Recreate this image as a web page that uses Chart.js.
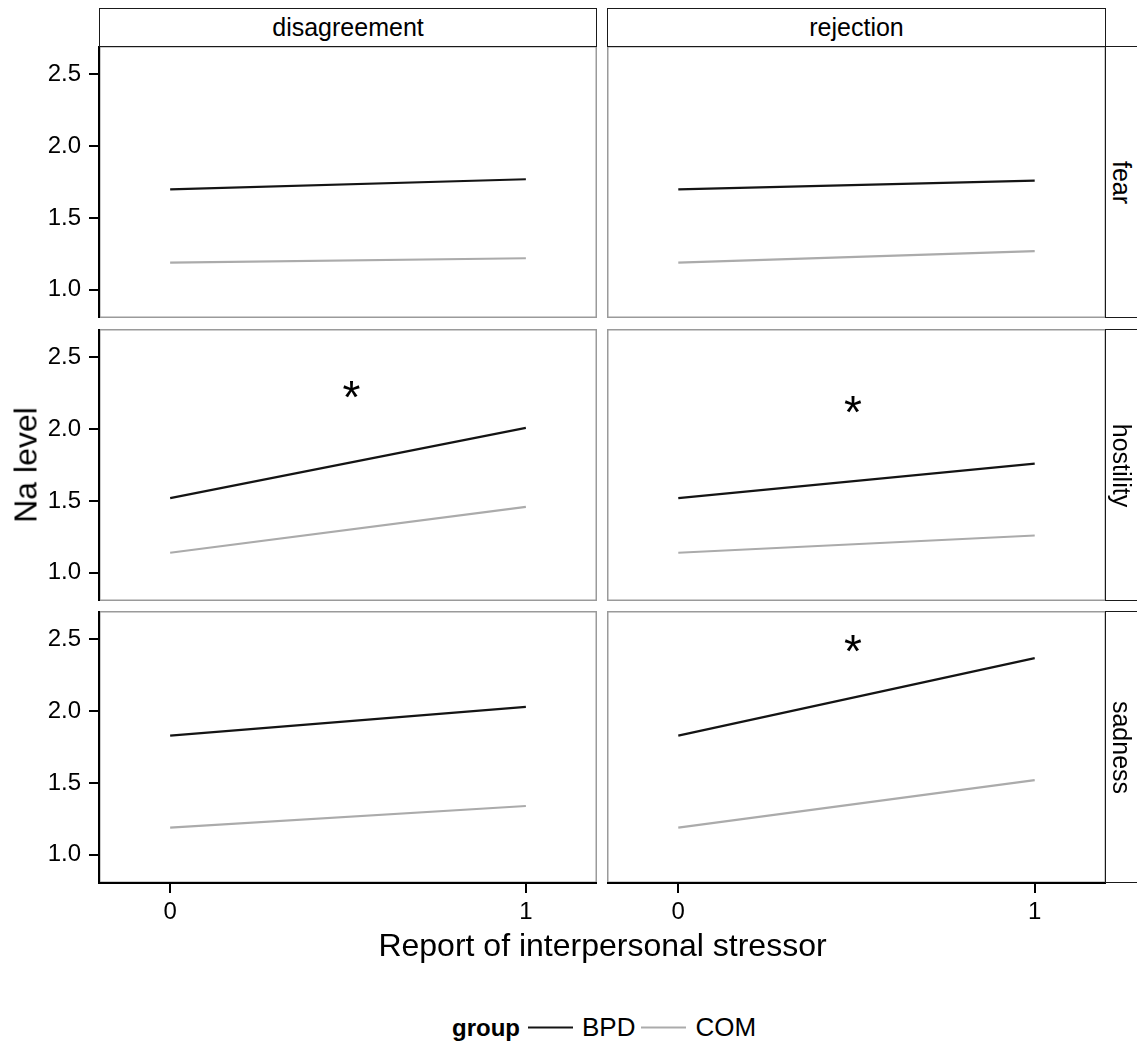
<!DOCTYPE html>
<html>
<head>
<meta charset="utf-8">
<script src="https://cdn.jsdelivr.net/npm/chart.js@4.4.1/dist/chart.umd.min.js"></script>
<style>
  body { margin: 0; background: #fff; }
  #wrap { position: relative; width: 1137px; height: 1043px; overflow: hidden;
          font-family: "Liberation Sans", Arial, sans-serif; color: #000; background: #fff; }
  #wrap canvas { position: absolute; }
  .strip { position: absolute; box-sizing: border-box; border: 1.5px solid #1a1a1a; background: #fff;
           display: flex; align-items: center; justify-content: center; font-size: 25px; z-index: 2; }
  .vlab { transform: rotate(90deg); white-space: nowrap; }
  .abs { position: absolute; white-space: nowrap; }
</style>
</head>
<body>
<div id="wrap"></div>
<script>
// ---------- data ----------
const stressors = ['disagreement', 'rejection'];
const emotions = ['fear', 'hostility', 'sadness'];
const groups = ['BPD', 'COM'];
const xLevels = [0, 1];
const yTickValues = [1.0, 1.5, 2.0, 2.5];
// rows: fear, hostility, sadness ; values at x = 0 and x = 1
const bpdDisagreement = [[1.70, 1.77], [1.52, 2.01], [1.83, 2.03]];
const bpdRejection    = [[1.70, 1.76], [1.52, 1.76], [1.83, 2.37]];
const comDisagreement = [[1.19, 1.22], [1.14, 1.46], [1.19, 1.34]];
const comRejection    = [[1.19, 1.27], [1.14, 1.26], [1.19, 1.52]];
// significance markers
const starEmotion  = ['hostility', 'hostility', 'sadness'];
const starStressor = ['disagreement', 'rejection', 'rejection'];
const starX = [0.51, 0.49, 0.49];
const starY = [2.28, 2.17, 2.47];
const xTitle = 'Report of interpersonal stressor';
const yTitle = 'Na level';
const legendTitle = 'group';

// ---------- layout / style ----------
const FONT = '"Liberation Sans", Arial, sans-serif';
const colLeft = [99, 607];
const colWidth = [498, 499];
const rowTop = [46, 329, 611];
const rowHeight = 272;
const yAxisWidth = 99;
const xAxisHeight = 52;
const yMin = 0.804, yMax = 2.698;
const xMin = -0.2, xMax = 1.2;
const groupColors = ['#141414', '#ababab'];

const wrap = document.getElementById('wrap');

const panelPlugin = {
  id: 'panelDeco',
  beforeDraw(chart) {
    const a = chart.chartArea, ctx = chart.ctx;
    ctx.save();
    ctx.strokeStyle = '#9a9a9a';
    ctx.lineWidth = 1.5;
    ctx.strokeRect(a.left + 0.75, a.top + 0.75, a.right - a.left - 1.5, a.bottom - a.top - 1.5);
    ctx.restore();
  },
  afterDatasetsDraw(chart) {
    const o = chart.options.plugins.panelDeco;
    const ctx = chart.ctx;
    for (let i = 0; i < starX.length; i++) {
      if (starEmotion[i] !== o.emotion || starStressor[i] !== o.stressor) continue;
      const px = chart.scales.x.getPixelForValue(starX[i]);
      const py = chart.scales.y.getPixelForValue(starY[i]);
      ctx.save();
      ctx.font = '46px ' + FONT;
      ctx.fillStyle = '#000';
      ctx.textAlign = 'center';
      ctx.textBaseline = 'alphabetic';
      const m = ctx.measureText('*');
      const base = py + (m.actualBoundingBoxAscent - m.actualBoundingBoxDescent) / 2;
      ctx.fillText('*', px, base);
      ctx.restore();
    }
  }
};

function seriesFor(group, r, c) {
  const src = group === 'BPD' ? (c === 0 ? bpdDisagreement : bpdRejection)
                              : (c === 0 ? comDisagreement : comRejection);
  return xLevels.map((x, i) => ({ x: x, y: src[r][i] }));
}

for (let r = 0; r < emotions.length; r++) {
  for (let c = 0; c < stressors.length; c++) {
    const showY = c === 0, showX = r === emotions.length - 1;
    const left = showY ? 0 : colLeft[c];
    const width = colLeft[c] + colWidth[c] - left;
    const height = rowHeight + (showX ? xAxisHeight : 0);
    const cv = document.createElement('canvas');
    cv.width = width; cv.height = height;
    cv.style.left = left + 'px'; cv.style.top = rowTop[r] + 'px';
    cv.style.width = width + 'px'; cv.style.height = height + 'px';
    wrap.appendChild(cv);

    new Chart(cv, {
      type: 'line',
      data: {
        datasets: groups.map((g, gi) => ({
          label: g,
          data: seriesFor(g, r, c),
          borderColor: groupColors[gi],
          borderWidth: 2.2,
          pointRadius: 0,
          tension: 0,
          fill: false
        }))
      },
      options: {
        responsive: false, animation: false, devicePixelRatio: 1,
        layout: { padding: 0 },
        plugins: {
          legend: { display: false }, tooltip: { enabled: false },
          panelDeco: { emotion: emotions[r], stressor: stressors[c] }
        },
        scales: {
          x: {
            type: 'linear', min: xMin, max: xMax, display: showX,
            afterBuildTicks: s => { s.ticks = xLevels.map(v => ({ value: v })); },
            afterFit: s => {
              s.height = showX ? xAxisHeight : 0;
              s.paddingLeft = 0; s.paddingRight = 0; s.paddingTop = 0; s.paddingBottom = 0;
            },
            grid: { drawOnChartArea: false, drawTicks: true, tickLength: 10, color: '#000', lineWidth: 2 },
            border: { display: true, color: '#000', width: 2 },
            ticks: { font: { family: FONT, size: 24 }, color: '#000', padding: 5, maxRotation: 0,
                     autoSkip: false, callback: v => String(v) }
          },
          y: {
            type: 'linear', min: yMin, max: yMax, display: showY,
            afterBuildTicks: s => { s.ticks = yTickValues.map(v => ({ value: v })); },
            afterFit: s => {
              s.width = showY ? yAxisWidth : 0;
              s.paddingLeft = 0; s.paddingRight = 0; s.paddingTop = 0; s.paddingBottom = 0;
            },
            grid: { drawOnChartArea: false, drawTicks: true, tickLength: 10, color: '#000', lineWidth: 2 },
            border: { display: true, color: '#000', width: 2 },
            ticks: { font: { family: FONT, size: 24 }, color: '#000', padding: 8,
                     autoSkip: false, callback: v => Number(v).toFixed(1) }
          }
        }
      },
      plugins: [panelPlugin]
    });
  }
}

// column strips
stressors.forEach((s, c) => {
  const d = document.createElement('div');
  d.className = 'strip';
  d.style.left = colLeft[c] + 'px'; d.style.top = '8px';
  d.style.width = colWidth[c] + 'px'; d.style.height = (rowTop[0] - 8 + 1) + 'px';
  d.textContent = s;
  wrap.appendChild(d);
});
// row strips
emotions.forEach((e, r) => {
  const d = document.createElement('div');
  d.className = 'strip';
  d.style.left = (colLeft[1] + colWidth[1] - 1) + 'px'; d.style.top = rowTop[r] + 'px';
  d.style.width = '40px'; d.style.height = rowHeight + 'px';
  const t = document.createElement('div');
  t.className = 'vlab';
  t.textContent = e;
  t.style.marginLeft = '-7px';
  d.appendChild(t);
  wrap.appendChild(d);
});

// axis titles
const xt = document.createElement('div');
xt.className = 'abs'; xt.textContent = xTitle;
xt.style.fontSize = '32px';
xt.style.left = ((colLeft[0] + colLeft[1] + colWidth[1]) / 2) + 'px';
xt.style.top = '945px';
xt.style.transform = 'translate(-50%,-50%)';
wrap.appendChild(xt);

const yt = document.createElement('div');
yt.className = 'abs'; yt.textContent = yTitle;
yt.style.fontSize = '32px';
yt.style.left = '26px';
yt.style.top = ((rowTop[0] + rowTop[2] + rowHeight) / 2) + 'px';
yt.style.transform = 'translate(-50%,-50%) rotate(-90deg)';
wrap.appendChild(yt);

// legend
const lg = document.createElement('div');
lg.className = 'abs';
lg.style.left = '452px'; lg.style.top = '1027px';
lg.style.transform = 'translateY(-50%)';
lg.style.display = 'flex'; lg.style.alignItems = 'center';
lg.style.fontSize = '26px';
const lt = document.createElement('span');
lt.textContent = legendTitle; lt.style.fontWeight = 'bold'; lt.style.fontSize = '24px'; lt.style.marginRight = '8px';
lg.appendChild(lt);
groups.forEach((g, gi) => {
  const ln = document.createElement('span');
  ln.style.display = 'inline-block'; ln.style.width = '45px'; ln.style.height = '0';
  ln.style.borderTop = '2.2px solid ' + groupColors[gi];
  ln.style.marginRight = '9px';
  lg.appendChild(ln);
  const tx = document.createElement('span');
  tx.textContent = g; tx.style.marginRight = '6px';
  lg.appendChild(tx);
});
wrap.appendChild(lg);
</script>
</body>
</html>
